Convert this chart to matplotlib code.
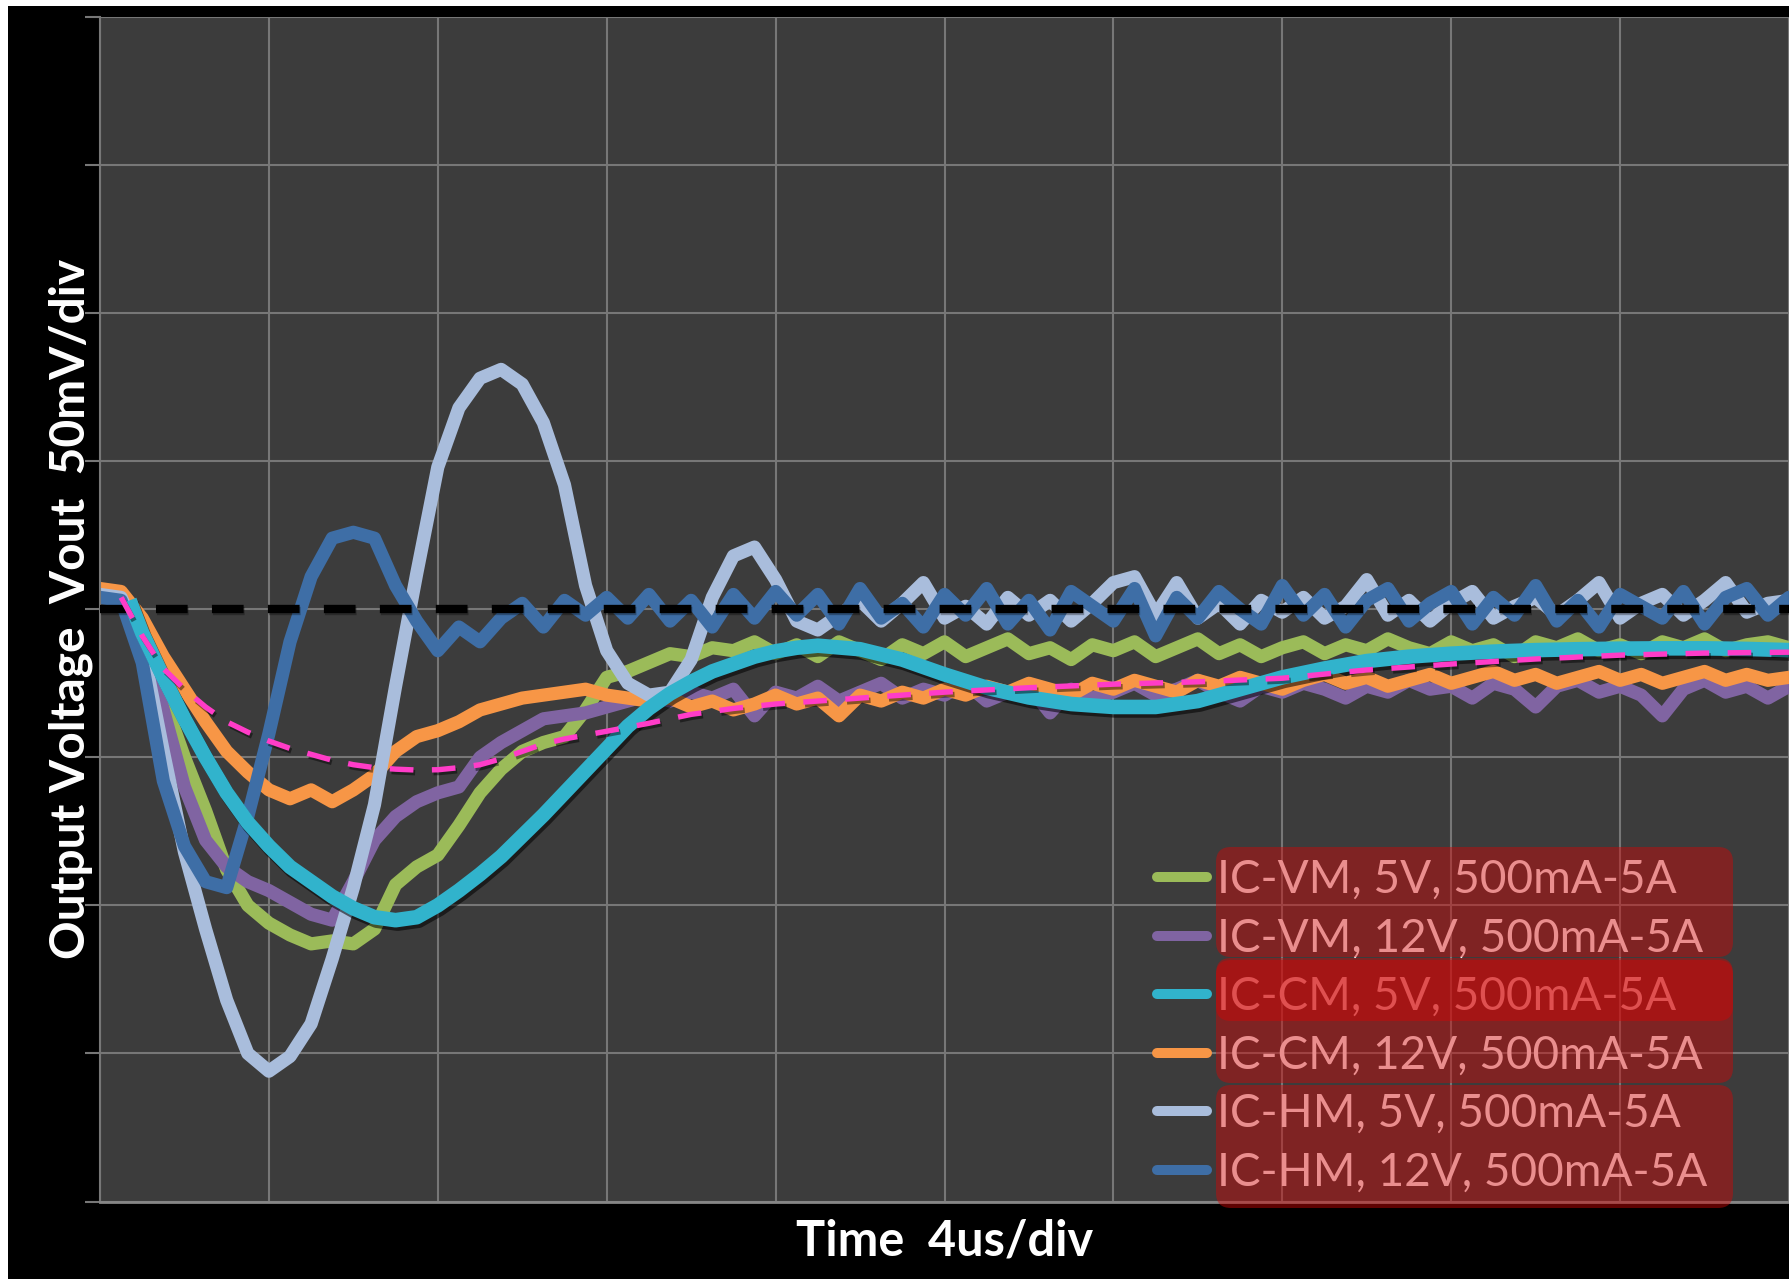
import numpy as np
import matplotlib
matplotlib.use("Agg")
import matplotlib.pyplot as plt
from matplotlib import patheffects as pe
from matplotlib.lines import Line2D
from matplotlib.patches import FancyBboxPatch, Rectangle

plt.rcParams["lines.scale_dashes"] = False

W_PX, H_PX, DPI = 1789, 1279, 100

# ---------------------------------------------------------------------------
# Load-step transient captures, 500mA -> 5A, output deviation in mV
# ---------------------------------------------------------------------------
T_US = np.arange(0, 40.5, 0.5)          # scope sample times (us)

VM_5V = [6, 5, -8, -30, -50, -68, -88, -100, -106, -110,
         -113, -112, -113, -108, -93, -87, -83, -73, -62, -54,
         -48, -45, -43, -34, -23, -21, -18, -15, -16, -13,
         -14, -11, -15, -12, -16, -11, -14, -17, -12, -15,
         -11, -16, -13, -10, -15, -13, -17, -12, -14, -11,
         -16, -13, -10, -15, -12, -16, -13, -11, -15, -12,
         -14, -10, -13, -15, -11, -14, -12, -16, -11, -13,
         -10, -14, -12, -15, -11, -13, -10, -14, -12, -11,
         -13]

VM_12V = [6, 5, -8, -34, -60, -78, -87, -92, -95, -99,
          -103, -105, -92, -78, -70, -65, -62, -60, -50, -45,
          -41, -37, -36, -35, -33, -31, -29, -31, -28, -30,
          -27, -36, -28, -30, -26, -31, -28, -25, -30, -27,
          -29, -25, -31, -28, -26, -35, -27, -30, -28, -25,
          -29, -27, -24, -28, -31, -26, -28, -25, -27, -30,
          -26, -28, -24, -27, -26, -30, -25, -27, -33, -26,
          -24, -28, -26, -29, -36, -27, -24, -28, -26, -30,
          -26]

CM_12V = [7, 6, -3, -16, -27, -38, -48, -55, -61, -64,
          -61, -65, -61, -56, -48, -43, -41, -38, -34, -32,
          -30, -29, -28, -27, -29, -30, -31, -30, -33, -31,
          -34, -32, -29, -32, -30, -36, -29, -31, -28, -30,
          -27, -29, -26, -28, -25, -27, -29, -25, -27, -24,
          -26, -28, -24, -26, -23, -25, -27, -24, -22, -25,
          -23, -26, -24, -22, -25, -23, -21, -24, -22, -25,
          -23, -21, -24, -22, -25, -23, -21, -24, -22, -24,
          -23]

HM_5V = [5, 4, -12, -48, -82, -108, -132, -150, -156, -151,
         -140, -118, -94, -66, -26, 12, 48, 68, 78, 81,
         76, 63, 42, 8, -14, -25, -29, -28, -17, 4,
         18, 21, 10, -4, -7, -2, 3, -4, 2, 9,
         -3, 1, -5, 4, -2, 3, -4, 2, 9, 11,
         -2, 9, -3, 2, -5, 3, -1, 4, -3, 1,
         10, -2, 3, -4, 2, 6, -3, 1, 4, -2,
         3, 9, -3, 2, 5, -2, 3, 9, -1, 2,
         3]

HM_12V = [4, 3, -18, -58, -80, -92, -94, -70, -42, -11,
          11, 24, 26, 24, 8, -4, -14, -6, -11, -3,
          2, -6, 3, -2, 4, -3, 5, -4, 3, -6,
          5, -3, 6, -2, 5, -5, 7, -3, 2, -6,
          5, -2, 7, -5, 3, -7, 6, 1, -4, 7,
          -9, 4, -3, 6, 0, -5, 8, -2, 5, -6,
          3, 7, -4, 2, 6, -5, 4, -2, 8, -4,
          3, -6, 5, 1, -3, 6, -5, 4, 7, -2,
          4]

# IC-CM 5V response (filtered trace)
CM_5V_T = [0.7, 1.0, 1.5, 2.0, 2.5, 3.0, 3.5, 4.0, 4.5, 5.0, 5.5, 6.0,
           6.5, 7.0, 7.5, 8.0, 8.5, 9.0, 9.5, 10.0, 10.5, 11.0, 11.5, 12.0,
           12.5, 13.0, 13.5, 14.0, 14.5, 15.0, 15.5, 16.0, 16.5, 17.0,
           18, 19, 20, 21, 22, 23, 24, 25, 26, 27, 28, 29, 30,
           31, 32, 33, 34, 35, 36, 37, 38, 39, 40]
CM_5V = [3, -8, -23, -37, -50, -62, -72, -80, -87, -92, -97, -101,
         -104, -105, -104, -100, -95, -89.5, -83.5, -76.5, -69.5, -62, -54.5, -47,
         -39.5, -33.5, -28.5, -24.5, -21, -18.5, -16, -14.2, -13, -12.3,
         -13.5, -17, -22, -26.5, -29.8, -32, -33, -33, -31, -27, -23, -20, -17.5,
         -16, -15, -14.3, -13.8, -13.5, -13.3, -13.2, -13.2, -13.4, -13.8]

# average response guide
AVG_T = [0.5, 1.0, 1.5, 2.0, 2.5, 3.0, 3.5, 4.0, 4.5, 5.0, 5.5, 6.0, 6.5,
         7.0, 7.5, 8.0, 8.5, 9.0, 9.5, 10.0, 10.5, 11.0, 11.5, 12.0, 13.0,
         14.0, 15.0, 16.0, 17.0, 18.0, 19.0, 20.0, 22.0, 24.0, 26.0, 28.0,
         30.0, 32.0, 34.0, 36.0, 38.0, 40.0]
AVG_MV = [4, -9, -20, -27, -33, -38, -41.5, -44.5, -47, -49, -51, -52.5, -53.5,
          -54, -54.3, -54.2, -53.5, -52.5, -50.5, -48, -45.5, -43.8, -42.5, -41.2, -38.5,
          -35.5, -33.5, -32, -31, -30, -29, -28, -26.5, -25.3, -24.5, -23.3,
          -20.5, -18.5, -16.8, -15.5, -14.8, -14.5]

REF_MV = 0.0

LABELS = ["IC-VM, 5V, 500mA-5A", "IC-VM, 12V, 500mA-5A", "IC-CM, 5V, 500mA-5A",
          "IC-CM, 12V, 500mA-5A", "IC-HM, 5V, 500mA-5A", "IC-HM, 12V, 500mA-5A"]
C_GREEN, C_PURPLE, C_CYAN = "#9bbb59", "#8064a2", "#31b3cc"
C_ORANGE, C_LBLUE, C_DBLUE = "#f79646", "#a9bddc", "#3e6ea6"
C_PINK = "#ff3cc8"
COLORS = [C_GREEN, C_PURPLE, C_CYAN, C_ORANGE, C_LBLUE, C_DBLUE]

# ---------------------------------------------------------------------------
fig = plt.figure(figsize=(W_PX / DPI, H_PX / DPI), dpi=DPI, facecolor="white")


def inch(x, y):
    """pixel position measured from the top-left corner -> inches"""
    return x / DPI, (H_PX - y) / DPI


fig.add_artist(Rectangle(inch(8, H_PX), (W_PX - 8) / DPI, (H_PX - 6) / DPI,
                         transform=fig.dpi_scale_trans, facecolor="black",
                         edgecolor="none", zorder=-5))

ax_l, ax_r, ax_t, ax_b = 100, W_PX, 17, 1201.5
ax = fig.add_axes([ax_l / W_PX, (H_PX - ax_b) / H_PX,
                   (ax_r - ax_l) / W_PX, (ax_b - ax_t) / H_PX])
ax.set_facecolor("#3c3c3c")
ax.set_xlim(0, 40)
ax.set_ylim(-200, 200)
ax.set_xticks(np.arange(0, 41, 4))
ax.set_yticks(np.arange(-200, 201, 50))
ax.set_axisbelow(True)
ax.grid(True, color="#777777", lw=1.5)
ax.tick_params(axis="x", length=0, labelbottom=False)
ax.tick_params(axis="y", length=11, width=1.5, color="#777777",
               labelleft=False, direction="out")
for side in ("top", "right"):
    ax.spines[side].set_visible(False)
ax.spines["left"].set_color("#777777")
ax.spines["left"].set_linewidth(1.5)
ax.spines["bottom"].set_color("#868686")
ax.spines["bottom"].set_linewidth(2)

for vals, col in [(VM_5V, C_GREEN), (VM_12V, C_PURPLE), (CM_12V, C_ORANGE),
                  (HM_5V, C_LBLUE), (HM_12V, C_DBLUE)]:
    ax.plot(T_US, vals, color=col, lw=9.5, solid_joinstyle="round",
            solid_capstyle="round", zorder=2)

ax.axhline(REF_MV, color="black", lw=6, linestyle=(0, (22.8, 17.5)), zorder=3,
           path_effects=[pe.SimpleLineShadow(offset=(1, -1.5), alpha=0.3),
                         pe.Normal()])

ax.plot(CM_5V_T, CM_5V, color=C_CYAN, lw=10.5, solid_joinstyle="round",
        solid_capstyle="butt", zorder=4,
        path_effects=[pe.SimpleLineShadow(offset=(1.5, -2.5), alpha=0.55),
                      pe.Normal()])

ax.plot(AVG_T, AVG_MV, color=C_PINK, lw=3.9, linestyle=(0, (17, 13.3)), zorder=5,
        path_effects=[pe.SimpleLineShadow(offset=(1.2, -2), alpha=0.45),
                      pe.Normal()])

# axis titles
fig.text(85 / W_PX, 1 - 609 / H_PX, "Output Voltage  Vout  50mV/div",
         rotation=90, rotation_mode="anchor", ha="center", va="baseline",
         fontsize=34.5, fontweight="bold", family="Lato", color="white")
fig.text(944.5 / W_PX, 1 - 1256 / H_PX, "Time  4us/div", ha="center",
         va="baseline", fontsize=35, fontweight="bold", family="Lato",
         color="white")

# legend
for i, (lab, col) in enumerate(zip(LABELS, COLORS)):
    base = 893 + 58.5 * i
    x0, y0 = inch(1157, base - 16)
    x1, _ = inch(1207, base - 16)
    fig.add_artist(Line2D([x0, x1], [y0, y0], transform=fig.dpi_scale_trans,
                          color=col, lw=7.2, solid_capstyle="round", zorder=2))
    tx, ty = inch(1217, base)
    fig.text(tx / (W_PX / DPI), ty / (H_PX / DPI), lab, ha="left",
             va="baseline", fontsize=33, family="Lato", color="white",
             zorder=2)

# translucent highlight boxes over the legend labels
for top, bottom in [(847, 957), (958, 1083), (960, 1021), (1085, 1208)]:
    x, y = inch(1216, bottom)
    fig.add_artist(FancyBboxPatch((x, y), (1733 - 1216) / DPI, (bottom - top) / DPI,
                                  boxstyle="round,pad=0,rounding_size=0.15",
                                  transform=fig.dpi_scale_trans,
                                  facecolor=(210 / 255, 5 / 255, 5 / 255),
                                  alpha=0.45, edgecolor="none", zorder=3))

fig.savefig("out.png", dpi=DPI, facecolor=fig.get_facecolor())
